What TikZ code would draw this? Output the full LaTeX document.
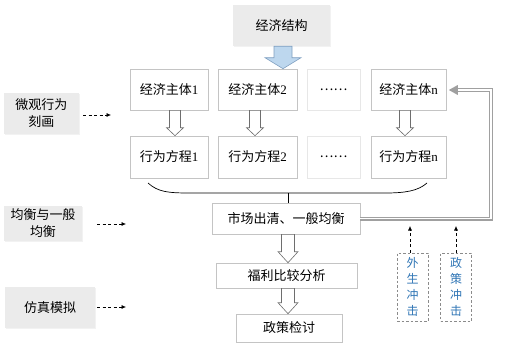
\documentclass[tikz,border=0pt]{standalone}
\usepackage{fontspec}
\setmainfont{Liberation Serif}
\newfontfamily\cjk{Noto Sans CJK SC}
\usetikzlibrary{calc,shadows,arrows.meta}
\definecolor{boxline}{HTML}{C4C4C4}
\definecolor{graybox}{HTML}{EBEBEB}
\definecolor{arrline}{HTML}{6E6E6E}
\definecolor{bluefill}{HTML}{BDD7EE}
\definecolor{blueline}{HTML}{7F9FC0}
\definecolor{fbline}{HTML}{A0A0A0}
\definecolor{shocktext}{HTML}{2F75B5}
\newcommand\hollowarrow[7]{%
  \coordinate (hax) at (#2,0);
  \coordinate (has) at (hax |- #3.south);
  \coordinate (hae) at (hax |- #4.north);
  \draw[#1] ($(has)+(-#5,0)$) -- ($(hae)+(-#5,-#7)$) -- ($(hae)+(-#6,-#7)$) -- (hae)
     -- ($(hae)+(#6,-#7)$) -- ($(hae)+(#5,-#7)$) -- ($(has)+(#5,0)$) -- cycle;
}
\begin{document}
\begin{tikzpicture}[x=1pt,y=-1pt,
  box/.style={draw=boxline, fill=white, line width=0.6pt, inner sep=0pt,
    font=\fontsize{13}{15}\selectfont,
    drop shadow={shadow xshift=0.8pt,shadow yshift=-0.8pt,opacity=0.12}},
  gbox/.style={fill=graybox, inner sep=0pt, align=center,
    font=\cjk\fontsize{13}{17}\selectfont,
    drop shadow={shadow xshift=0.8pt,shadow yshift=-0.8pt,opacity=0.10}},
  dotbox/.style={box, draw=boxline!40},
  hollow/.style={draw=arrline, fill=white, line width=0.6pt, line join=miter},
  bluearrow/.style={draw=blueline, fill=bluefill, line width=0.6pt, line join=miter},
  dasharr/.style={densely dashed, dash pattern=on 3pt off 2.5pt, line width=0.6pt,
    -{Latex[length=4.5pt,width=4pt]}},
  shock/.style={draw=arrline!80, dashed, dash pattern=on 2.5pt off 2pt, line width=0.6pt,
    inner sep=0pt, minimum width=31pt, minimum height=68pt, align=center,
    text=shocktext, font=\cjk\fontsize{12}{16}\selectfont},
  fb/.style={draw=fbline, line width=1.1pt, double=white, double distance=1.8pt, line join=miter}]
\useasboundingbox (0,0) rectangle (525,343);

% top
\node[gbox, minimum width=97pt, minimum height=41pt] (top) at (281.5,25.5) {经济结构};

% row 1
\node[box, minimum width=78pt, minimum height=41pt] (a1) at (169,89.5) {{\cjk 经济主体}1};
\node[box, minimum width=79pt, minimum height=41pt] (a2) at (257.5,89.5) {{\cjk 经济主体}2};
\node[dotbox, minimum width=53pt, minimum height=41pt] (a3) at (333.5,89.5) {\cjk ……};
\node[box, minimum width=75pt, minimum height=41pt] (an) at (408.5,89.5) {{\cjk 经济主体}n};

% row 2
\node[box, minimum width=78pt, minimum height=42pt] (b1) at (169,157) {{\cjk 行为方程}1};
\node[box, minimum width=79pt, minimum height=42pt] (b2) at (257.5,157) {{\cjk 行为方程}2};
\node[dotbox, minimum width=53pt, minimum height=42pt] (b3) at (333.5,157) {\cjk ……};
\node[box, minimum width=75pt, minimum height=42pt] (bn) at (408.5,157) {{\cjk 行为方程}n};

% lower chain
\node[box, minimum width=148pt, minimum height=31pt] (m) at (286,218.5) {\cjk 市场出清、一般均衡};
\node[box, minimum width=141pt, minimum height=25pt] (w) at (286.5,275.5) {\cjk 福利比较分析};
\node[box, minimum width=106pt, minimum height=28pt] (p) at (289,328) {\cjk 政策检讨};

% left labels
\node[gbox, minimum width=75pt, minimum height=41pt] (L1) at (41.5,113.5) {微观行为\\刻画};
\node[gbox, minimum width=78pt, minimum height=35pt] (L2) at (43,223.5) {均衡与一般\\均衡};
\node[gbox, minimum width=90pt, minimum height=41pt] (L3) at (50,307.5) {仿真模拟};

% shocks
\node[shock] (s1) at (412.5,287) {外\\生\\冲\\击};
\node[shock] (s2) at (456,287) {政\\策\\冲\\击};

% arrows
\hollowarrow{bluearrow}{283}{top}{a2}{9}{18}{11}
\hollowarrow{hollow}{175}{a1}{b1}{5.5}{8.5}{8}
\hollowarrow{hollow}{255}{a2}{b2}{5.5}{8.5}{8}
\hollowarrow{hollow}{405}{an}{bn}{5.5}{8.5}{8}
\hollowarrow{hollow}{288}{m}{w}{6.5}{10}{11}
\hollowarrow{hollow}{288}{w}{p}{6.5}{10}{11}

% brace
\coordinate (bl) at (148,183);
\coordinate (br) at (427,183);
\coordinate (bt) at (288,193);
\draw[line width=0.7pt] (bl) .. controls (158,192) and (168,193) .. (190,193) -- (385,193)
   .. controls (405,193) and (418,191) .. (br);
\draw[line width=0.7pt] (bt) -- (bt |- m.north);

% feedback
\coordinate (fc1) at (491,218.5);
\coordinate (fc2) at (491,90);
\draw[fb] (m.east) -- (fc1) -- (fc2) -- ($(an.east)+(9,0.5)$);
\fill[fbline] ($(an.east)+(2.5,0.5)$) -- ++(9,-5) -- ++(0,10) -- cycle;

% dashed arrows
\coordinate (d1s) at (83,115); \coordinate (d1e) at (111,115);
\coordinate (d2s) at (97,224); \coordinate (d2e) at (126,224);
\coordinate (d3s) at (97,307); \coordinate (d3e) at (126,307);
\draw[dasharr] (d1s) -- (d1e);
\draw[dasharr] (d2s) -- (d2e);
\draw[dasharr] (d3s) -- (d3e);
\coordinate (u1) at (410,226);
\coordinate (u2) at (456,226);
\draw[dasharr] (s1.north -| u1) -- (u1);
\draw[dasharr] (s2.north) -- (u2);
\end{tikzpicture}
\end{document}
